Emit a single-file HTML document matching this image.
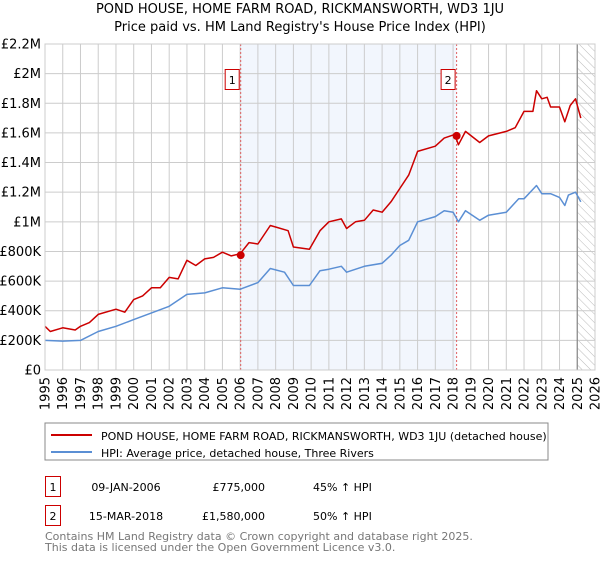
<!DOCTYPE html>
<html><head><meta charset="utf-8"><style>
body{margin:0;background:#fff;font-family:"DejaVu Sans","Liberation Sans",sans-serif;}
svg text{font-family:"DejaVu Sans","Liberation Sans",sans-serif;}
</style></head><body>
<svg id="c" width="600" height="560" viewBox="0 0 600 560">
<defs><pattern id="hatch" width="6" height="6" patternUnits="userSpaceOnUse" patternTransform="rotate(-45)"><line x1="0" y1="0" x2="0" y2="6" stroke="#bbb" stroke-width="1"/></pattern></defs>
<text x="300" y="13" text-anchor="middle" font-size="13" fill="#000">POND HOUSE, HOME FARM ROAD, RICKMANSWORTH, WD3 1JU</text>
<text x="300" y="31" text-anchor="middle" font-size="13" fill="#000">Price paid vs. HM Land Registry's House Price Index (HPI)</text>
<g id="plot"></g>
<rect x="45" y="423" width="503" height="37" fill="#fff" stroke="#888"/>
<line x1="51" y1="435" x2="92" y2="435" stroke="#cc0000" stroke-width="2"/>
<text x="101" y="440" font-size="11">POND HOUSE, HOME FARM ROAD, RICKMANSWORTH, WD3 1JU (detached house)</text>
<line x1="51" y1="452" x2="92" y2="452" stroke="#5b8fd4" stroke-width="2"/>
<text x="101" y="457" font-size="11">HPI: Average price, detached house, Three Rivers</text>
<g>
<rect x="45.5" y="476.5" width="15" height="20" fill="#fff" stroke="#cc0000"/><text x="53" y="491" text-anchor="middle" font-size="11">1</text>
<text x="126" y="491" text-anchor="middle" font-size="11">09-JAN-2006</text>
<text x="265" y="491" text-anchor="end" font-size="11">£775,000</text>
<text x="313" y="491" font-size="11">45% ↑ HPI</text></g>
<g>
<rect x="45.5" y="505.5" width="15" height="20" fill="#fff" stroke="#cc0000"/><text x="53" y="520" text-anchor="middle" font-size="11">2</text>
<text x="126" y="520" text-anchor="middle" font-size="11">15-MAR-2018</text>
<text x="265" y="520" text-anchor="end" font-size="11">£1,580,000</text>
<text x="313" y="520" font-size="11">50% ↑ HPI</text></g>
<text x="45" y="540" font-size="11" fill="#777">Contains HM Land Registry data © Crown copyright and database right 2025.</text>
<text x="45" y="551" font-size="11" fill="#777">This data is licensed under the Open Government Licence v3.0.</text>
</svg>
<script>
const yTicks=[0,200000,400000,600000,800000,1000000,1200000,1400000,1600000,1800000,2000000,2200000];
const yTickLabels=["£0","£200K","£400K","£600K","£800K","£1M","£1.2M","£1.4M","£1.6M","£1.8M","£2M","£2.2M"];
const xYears=[1995,1996,1997,1998,1999,2000,2001,2002,2003,2004,2005,2006,2007,2008,2009,2010,2011,2012,2013,2014,2015,2016,2017,2018,2019,2020,2021,2022,2023,2024,2025,2026];
const hpiYears=[1995,1996,1997,1998,1999,2000,2001,2002,2003,2004,2005,2006,2007,2007.7,2008.5,2009,2009.9,2010.5,2011,2011.7,2012,2013,2014,2014.5,2015,2015.5,2016,2017,2017.5,2018,2018.3,2018.7,2019.5,2020,2021,2021.7,2022,2022.7,2023,2023.5,2024,2024.3,2024.5,2024.9,2025.2];
const hpiValues=[200000,195000,200000,260000,295000,340000,385000,430000,510000,520000,555000,545000,590000,685000,660000,570000,570000,670000,680000,700000,660000,700000,720000,775000,840000,875000,1000000,1035000,1075000,1065000,1000000,1075000,1010000,1045000,1065000,1155000,1155000,1245000,1190000,1190000,1165000,1110000,1180000,1200000,1135000];
const priceYears=[1995,1995.3,1996,1996.7,1997,1997.5,1998,1999,1999.5,2000,2000.5,2001,2001.5,2002,2002.5,2003,2003.5,2004,2004.5,2005,2005.5,2006,2006.5,2007,2007.7,2008,2008.7,2009,2009.9,2010.5,2011,2011.7,2012,2012.5,2013,2013.5,2014,2014.5,2015,2015.5,2016,2017,2017.5,2018.1,2018.3,2018.7,2019.5,2020,2021,2021.5,2022,2022.5,2022.7,2023,2023.3,2023.5,2024,2024.3,2024.6,2024.9,2025.2];
const priceValues=[295000,260000,285000,270000,295000,320000,375000,410000,390000,475000,500000,555000,555000,625000,615000,740000,705000,750000,760000,795000,770000,785000,860000,850000,975000,965000,940000,830000,815000,940000,1000000,1020000,955000,1000000,1010000,1080000,1065000,1135000,1225000,1315000,1475000,1510000,1565000,1590000,1520000,1610000,1535000,1580000,1610000,1635000,1745000,1745000,1885000,1830000,1840000,1775000,1775000,1675000,1785000,1830000,1700000];
const saleYears=[2006.03,2018.2];
const saleValues=[775000,1580000];
const saleLabels=["1","2"];

const X0=45,X1=595,Y0=370,Y1=44;
const xs=y=>X0+(y-1995)/(2026-1995)*(X1-X0);
const ys=v=>Y0-v/2200000*(Y0-Y1);
const NS="http://www.w3.org/2000/svg";
const g=document.getElementById('plot');
function mk(t,a){const e=document.createElementNS(NS,t);for(const k in a)e.setAttribute(k,a[k]);g.appendChild(e);return e;}

let e=mk('rect',{x:xs(saleYears[0]),y:Y1,width:xs(saleYears[1])-xs(saleYears[0]),height:Y0-Y1,fill:'#eef3fc',opacity:0.75});


e=mk('rect',{x:xs(2025),y:Y1,width:X1-xs(2025),height:Y0-Y1,fill:'url(#hatch)'});


yTicks.forEach((v,i)=>{
  const l=mk('line',{x1:X0,x2:X1,y1:ys(v),y2:ys(v),stroke:'#cccccc','stroke-width':1});
  
  
  const t=mk('text',{x:X0-4,y:ys(v)+4.5,'text-anchor':'end','font-size':13,fill:'#000'});
  t.textContent=yTickLabels[i];
  
  
});
xYears.forEach(y=>{
  const l=mk('line',{x1:xs(y),x2:xs(y),y1:Y1,y2:Y0,stroke:'#cccccc','stroke-width':1});
  
  
  const t=mk('text',{x:0,y:0,'text-anchor':'end','font-size':13,fill:'#000',transform:`translate(${xs(y)+4.5},377) rotate(-90)`});
  t.textContent=y;
  
  
});
e=mk('line',{x1:xs(2025),x2:xs(2025),y1:Y1,y2:Y0,stroke:'#888','stroke-width':1.2});


saleYears.forEach((y,i)=>{
  const l=mk('line',{x1:xs(y),x2:xs(y),y1:Y1,y2:Y0,stroke:'#e06060','stroke-width':1,'stroke-dasharray':'2,2'});
  
  
});
function path(xv,yv,col,name){
  const d=xv.map((x,i)=>(i?'L':'M')+xs(x).toFixed(1)+','+ys(yv[i]).toFixed(1)).join('');
  const p=mk('path',{d:d,fill:'none',stroke:col,'stroke-width':1.5,'stroke-linejoin':'round'});
  
  
}
path(hpiYears,hpiValues,'#5b8fd4','hpi-line');
path(priceYears,priceValues,'#cc0000','price-line');
saleYears.forEach((y,i)=>{
  const c=mk('circle',{cx:xs(y),cy:ys(saleValues[i]),r:4,fill:'#cc0000'});
  
  
  const r=mk('rect',{x:xs(y)-15.5,y:69.5,width:14,height:20,fill:'#fff',stroke:'#cc0000'});
  
  
  const t=mk('text',{x:xs(y)-8.5,y:84,'text-anchor':'middle','font-size':11});
  t.textContent=saleLabels[i];
  
  
});
e=mk('rect',{x:X0,y:Y1,width:X1-X0,height:Y0-Y1,fill:'none',stroke:'#cccccc'});


</script>
</body></html>
